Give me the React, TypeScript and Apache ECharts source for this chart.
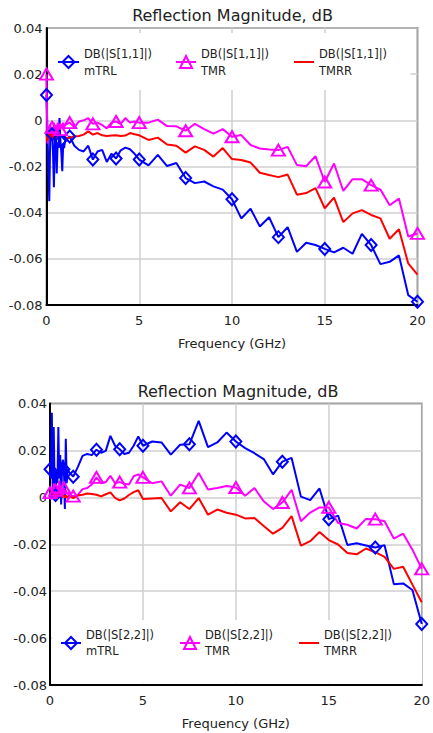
import React, { useEffect, useRef } from "react";
import * as echarts from "echarts";

const FONT = "DejaVu Sans, Verdana, sans-serif";

// Frequency points (GHz)
const freqLow = [0, 0.05, 0.1, 0.15, 0.2, 0.25, 0.3, 0.35, 0.4, 0.45, 0.5, 0.55, 0.6, 0.65, 0.7, 0.75, 0.8, 0.85, 0.9, 0.95];
const freqMid = [1, 1.25, 1.5, 1.75, 2, 2.25, 2.5, 2.75, 3, 3.25, 3.5, 3.75, 4, 4.25, 4.5, 4.75];
const freqHigh = [5, 5.5, 6, 6.5, 7, 7.5, 8, 8.5, 9, 9.5, 10, 10.5, 11, 11.5, 12, 12.5, 13, 13.5, 14, 14.5, 15, 15.5, 16, 16.5, 17, 17.5, 18, 18.5, 19, 19.5, 20];
const markerFreqs = [0, 0.3, 0.75, 1.25, 2.5, 3.75, 5, 7.5, 10, 12.5, 15, 17.5, 20];

const xTicks = [0, 5, 10, 15, 20];
const yTicks = [-0.08, -0.06, -0.04, -0.02, 0, 0.02, 0.04];

const chartTitle = "Reflection Magnitude, dB";
const xName = "Frequency (GHz)";

// S11 (top chart)
const s11Mtrl = [
  0.011, -0.004, -0.02, -0.035, -0.008, -0.005, -0.006, -0.014, -0.029, -0.007, -0.003, -0.023, -0.01, -0.012, 0.001, -0.009, -0.014, -0.022, -0.01, -0.012,
  -0.009, -0.007, -0.011, -0.0128, -0.0135, -0.011, -0.017, -0.0135, -0.0128, -0.018, -0.0145, -0.0165, -0.013, -0.0118, -0.0125, -0.0145,
  -0.017, -0.0195, -0.015, -0.0198, -0.0185, -0.025, -0.0272, -0.0265, -0.0286, -0.03, -0.0342,
  -0.0425, -0.0383, -0.046, -0.042, -0.0506, -0.0463, -0.057, -0.053, -0.054, -0.0557,
  -0.0572, -0.0552, -0.0578, -0.0492, -0.054, -0.0623, -0.0613, -0.0585, -0.0757, -0.0786,
];
const s11Tmr = [
  0.02, -0.01, -0.004, -0.007, -0.002, -0.006, -0.003, -0.007, -0.001, -0.005, -0.002, -0.006, -0.001, -0.004, -0.0015, -0.004, -0.002, -0.003, -0.001, -0.003,
  -0.002, -0.001, -0.003, -0.0005, 0.0, 0.001, -0.0015, -0.001, -0.002, -0.0035, -0.001, -0.0005, -0.0015, 0.001, -0.001, -0.0005,
  -0.001, -0.001, 0.0003, -0.0025, -0.0026, -0.0045, -0.0015, -0.0038, -0.0058, -0.0038, -0.0071,
  -0.0064, -0.0107, -0.0122, -0.0126, -0.0129, -0.0115, -0.0194, -0.0199, -0.0155, -0.0267,
  -0.0187, -0.0306, -0.0255, -0.0255, -0.0281, -0.03, -0.0368, -0.0339, -0.0503, -0.049,
];
const s11Tmrr = [
  -0.006, -0.009, -0.004, -0.008, -0.005, -0.007, -0.006, -0.008, -0.005, -0.007, -0.006, -0.008, -0.006, -0.007, -0.006, -0.007, -0.0065, -0.007, -0.0068, -0.007,
  -0.0075, -0.0075, -0.007, -0.0068, -0.0062, -0.0048, -0.0062, -0.0055, -0.0065, -0.0068, -0.0066, -0.0065, -0.0068, -0.0066, -0.0055, -0.006,
  -0.0065, -0.0085, -0.0075, -0.0105, -0.011, -0.014, -0.0113, -0.0128, -0.0157, -0.012, -0.0168,
  -0.0172, -0.0183, -0.0227, -0.0237, -0.0246, -0.0235, -0.0322, -0.0315, -0.0294, -0.0381,
  -0.0335, -0.0441, -0.0403, -0.0389, -0.041, -0.0425, -0.0513, -0.0472, -0.062, -0.0668,
];

// S22 (bottom chart)
const s22Mtrl = [
  0.012, 0.008, 0.036, 0.0, 0.03, 0.004, 0.001, 0.012, 0.006, 0.03, 0.008, 0.018, -0.003, 0.014, 0.016, 0.012, -0.005, 0.025, 0.006, 0.012,
  0.011, 0.0088, 0.013, 0.0177, 0.0185, 0.018, 0.0203, 0.019, 0.0198, 0.0262, 0.022, 0.0205, 0.0185, 0.019, 0.022, 0.026,
  0.022, 0.0238, 0.0234, 0.0182, 0.0224, 0.0226, 0.0326, 0.0214, 0.0234, 0.0276, 0.0238,
  0.021, 0.0188, 0.0163, 0.0098, 0.0152, 0.0168, 0.0003, -0.0012, 0.0038, -0.0093,
  -0.0078, -0.0203, -0.0196, -0.0205, -0.0214, -0.0204, -0.037, -0.0367, -0.0395, -0.054,
];
const s22Tmr = [
  0.002, -0.001, 0.004, 0.001, 0.006, 0.0, 0.003, 0.0, 0.005, 0.001, 0.007, 0.002, 0.004, 0.001, 0.003, 0.004, 0.002, 0.003, 0.0015, 0.002,
  0.001, 0.0005, 0.001, 0.0035, 0.004, 0.0055, 0.0085, 0.006, 0.0065, 0.0092, 0.006, 0.0065, 0.0058, 0.0055, 0.009, 0.0098,
  0.0085, 0.006, 0.0068, 0.0007, 0.0054, 0.004, 0.0104, 0.0033, 0.004, 0.0048, 0.0042,
  0.0007, 0.004, -0.0017, -0.005, -0.0022, 0.0032, -0.0102, -0.0065, -0.0043, -0.0043,
  -0.0109, -0.0117, -0.0133, -0.0092, -0.0093, -0.0102, -0.0176, -0.0155, -0.0223, -0.0305,
];
const s22Tmrr = [
  0.001, 0.0, 0.002, 0.0005, 0.0015, 0.0, 0.001, 0.0005, 0.001, 0.0, 0.0012, 0.0005, 0.001, 0.0, 0.0008, 0.0005, 0.0, 0.001, -0.0003, 0.0,
  0.0005, -0.0003, 0.0008, 0.0011, 0.0016, 0.0014, 0.0011, 0.0004, 0.0013, 0.0021, -0.0002, -0.0013, -0.0005, 0.001, 0.0022, 0.003,
  -0.0007, -0.0005, -0.0003, -0.006, -0.0021, -0.005, -0.0003, -0.0074, -0.0052, -0.0066, -0.0074,
  -0.009, -0.0088, -0.0122, -0.0155, -0.013, -0.008, -0.0206, -0.0187, -0.0148, -0.0182,
  -0.0201, -0.0237, -0.0243, -0.0218, -0.0234, -0.0254, -0.0305, -0.0296, -0.0372, -0.0447,
];

const names1 = ["DB(|S[1,1]|)\nmTRL", "DB(|S[1,1]|)\nTMR", "DB(|S[1,1]|)\nTMRR"];
const names2 = ["DB(|S[2,2]|)\nmTRL", "DB(|S[2,2]|)\nTMR", "DB(|S[2,2]|)\nTMRR"];

const BLUE = "#0000ff";
const MAGENTA = "#ff00ff";
const RED = "#ff0000";

const freq = [...freqLow, ...freqMid, ...freqHigh];

function buildData(values: number[]) {
  return freq.map((f, i) =>
    markerFreqs.includes(f) ? { value: [f, values[i]] } : { value: [f, values[i]], symbol: "none" }
  );
}

function makeSeries(name: string, values: number[], color: string, symbol: string, size: any, idx: number) {
  const plain = symbol === "none";
  return {
    type: "line",
    name,
    xAxisIndex: idx,
    yAxisIndex: idx,
    data: buildData(values),
    symbol,
    symbolSize: size,
    showSymbol: true,
    showAllSymbol: true,
    lineStyle: { color, width: 2 },
    itemStyle: plain
      ? { color, borderWidth: 0 }
      : { color: "rgba(255,255,255,0)", borderColor: color, borderWidth: 2 },
    emphasis: { disabled: true },
  };
}

function yFmt(v: number) {
  if (Math.abs(v) < 1e-9) return "0";
  return v.toFixed(2);
}

function makeAxes(idx: number, yMargin: number) {
  const xAxis = {
    type: "value",
    gridIndex: idx,
    min: xTicks[0],
    max: xTicks[xTicks.length - 1],
    interval: xTicks[1] - xTicks[0],
    axisLine: { show: true, onZero: false, lineStyle: { color: "#000", width: 2 } },
    axisTick: { show: false },
    splitLine: { show: true, lineStyle: { color: "#cfcfcf", width: 1.5 } },
    axisLabel: { fontSize: 13, color: "#222", margin: 9, fontFamily: FONT },
    name: xName,
    nameLocation: "middle",
    nameGap: 32,
    nameTextStyle: { fontSize: 13, color: "#222", fontFamily: FONT },
  };
  const yAxis = {
    type: "value",
    gridIndex: idx,
    min: yTicks[0],
    max: yTicks[yTicks.length - 1],
    interval: yTicks[1] - yTicks[0],
    axisLine: { show: true, onZero: false, lineStyle: { color: "#000", width: 2 } },
    axisTick: { show: false },
    splitLine: { show: true, lineStyle: { color: "#cfcfcf", width: 1.5 } },
    axisLabel: { fontSize: 13, color: "#222", margin: yMargin, fontFamily: FONT, formatter: yFmt },
  };
  return { xAxis, yAxis };
}

function legendItem(name: string, left: number, iconY: number, lh: number, w: number, plain: boolean) {
  return {
    data: [plain ? { name, icon: "rect" } : name],
    left,
    top: iconY - 1.5 * lh,
    padding: 0,
    itemWidth: w,
    itemHeight: plain ? 2 : 15,
    itemGap: 0,
    selectedMode: false,
    textStyle: { fontSize: 11.5, color: "#222", fontFamily: FONT, lineHeight: lh, padding: [lh, 0, 0, 0] },
  };
}

export default function App() {
  const ref = useRef<HTMLDivElement>(null);
  useEffect(() => {
    if (!ref.current) return;
    const chart = echarts.init(ref.current, null, { renderer: "svg" });
    const a1 = makeAxes(0, 4);
    const a2 = makeAxes(1, 3);
    const lh1 = 17;
    const lh2 = 15.5;
    const option: any = {
      animation: false,
      backgroundColor: "#fff",
      grid: [
        { left: 46.5, top: 28, width: 371, height: 277, show: true, borderColor: "#333", borderWidth: 1.5 },
        { left: 50, top: 403.5, width: 376, height: 281.5, show: true, borderColor: "#333", borderWidth: 1.5 },
      ],
      xAxis: [a1.xAxis, a2.xAxis],
      yAxis: [a1.yAxis, a2.yAxis],
      legend: [
        legendItem(names1[0], 57, 62, lh1, 21, false),
        legendItem(names1[1], 175, 62, lh1, 20, false),
        legendItem(names1[2], 294, 62, lh1, 20, true),
        legendItem(names2[0], 60, 643, lh2, 20, false),
        legendItem(names2[1], 179, 643, lh2, 20, false),
        legendItem(names2[2], 299, 643, lh2, 20, true),
      ],
      graphic: [
        { type: "rect", z: 1, shape: { x: 48.5, y: 33, width: 362, height: 57 }, style: { fill: "#fff" } },
        { type: "rect", z: 1, shape: { x: 52, y: 620, width: 370, height: 63.5 }, style: { fill: "#fff" } },
        {
          type: "text", z: 5, x: 232.5, y: 15,
          style: { text: chartTitle, fontSize: 16, fontFamily: FONT, fill: "#222", align: "center", verticalAlign: "middle" },
        },
        {
          type: "text", z: 5, x: 238, y: 391,
          style: { text: chartTitle, fontSize: 16, fontFamily: FONT, fill: "#222", align: "center", verticalAlign: "middle" },
        },
      ],
      series: [
        makeSeries(names1[0], s11Mtrl, BLUE, "diamond", [11, 12], 0),
        makeSeries(names1[1], s11Tmr, MAGENTA, "triangle", [13, 11], 0),
        makeSeries(names1[2], s11Tmrr, RED, "none", 0, 0),
        makeSeries(names2[0], s22Mtrl, BLUE, "diamond", [11, 12], 1),
        makeSeries(names2[1], s22Tmr, MAGENTA, "triangle", [13, 11], 1),
        makeSeries(names2[2], s22Tmrr, RED, "none", 0, 1),
      ],
    };
    chart.setOption(option);
    return () => chart.dispose();
  }, []);
  return <div ref={ref} style={{ position: "absolute", left: 0, top: 0, width: 433, height: 733 }} />;
}
